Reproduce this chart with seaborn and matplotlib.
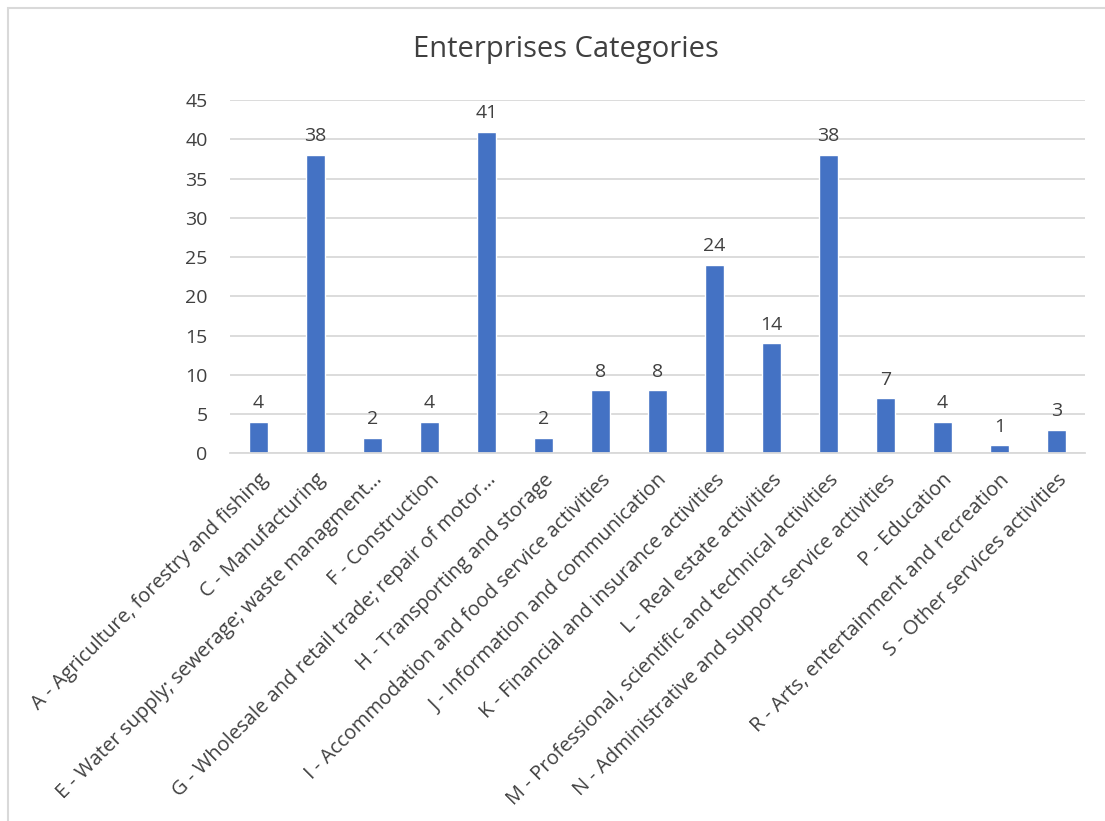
import matplotlib
matplotlib.use("Agg")
import matplotlib.pyplot as plt
from matplotlib.patches import Rectangle
import seaborn as sns
import pandas as pd

categories = [
    "A - Agriculture, forestry and fishing",
    "C - Manufacturing",
    "E - Water supply; sewerage; waste managment…",
    "F - Construction",
    "G - Wholesale and retail trade; repair of motor…",
    "H - Transporting and storage",
    "I - Accommodation and food service activities",
    "J - Information and communication",
    "K - Financial and insurance activities",
    "L - Real estate activities",
    "M - Professional, scientific and technical activities",
    "N - Administrative and support service activities",
    "P - Education",
    "R - Arts, entertainment and recreation",
    "S - Other services activities",
]
values = [4, 38, 2, 4, 41, 2, 8, 8, 24, 14, 38, 7, 4, 1, 3]
yticks = [0, 5, 10, 15, 20, 25, 30, 35, 40, 45]

sns.set_style("white")
plt.rcParams['font.family'] = ['Open Sans', 'DejaVu Sans']

df = pd.DataFrame({"cat": categories, "val": values})

fig = plt.figure(figsize=(11.05, 8.21), dpi=100)
fig.patches.append(Rectangle((8 / 1105, -0.1), 1.2, 1 - 8 / 821 + 0.1,
                             transform=fig.transFigure, fill=False,
                             edgecolor="#d9d9d9", linewidth=1.5))
ax = fig.add_axes([0.208, 0.448, 0.774, 0.430])
sns.barplot(data=df, x="cat", y="val", color="#4472C4", width=0.33, ax=ax,
            saturation=1)

ax.set_ylim(0, 45)
ax.set_yticks(yticks)
ax.set_yticklabels([str(t) for t in yticks], fontsize=14, color="#404040")
ax.tick_params(axis='y', length=0, pad=16)
ax.tick_params(axis='x', length=0, pad=12)
ax.set_xlim(-0.5, len(categories) - 0.5)
ax.yaxis.grid(True, color="#d9d9d9", linewidth=1.3)
ax.set_axisbelow(True)
for s in ["top", "right", "left"]:
    ax.spines[s].set_visible(False)
ax.spines["bottom"].set_color("#d9d9d9")
ax.spines["bottom"].set_linewidth(1.3)

ax.set_xticks(range(len(categories)))
ax.set_xticklabels(categories, rotation=45, ha="right", rotation_mode="anchor",
                   fontsize=14.5, color="#404040")
ax.set_xlabel("")
ax.set_ylabel("")

for c in ax.containers:
    ax.bar_label(c, labels=[str(v) for v in values], padding=7, fontsize=14,
                 color="#404040")

fig.text(0.512, 0.94, "Enterprises Categories", ha="center", va="center",
         fontsize=21, color="#404040")

fig.savefig("out.png", dpi=100)
